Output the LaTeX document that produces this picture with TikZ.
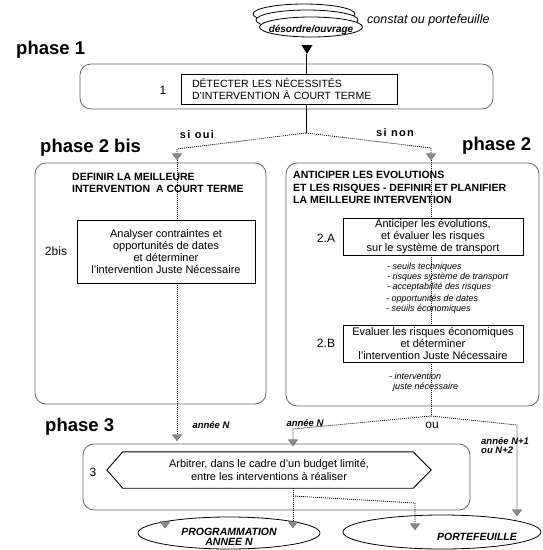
\documentclass[tikz,border=0pt]{standalone}
\usepackage{fontspec}
\setmainfont{Liberation Sans}
\usetikzlibrary{arrows.meta,shapes.geometric,calc}
\begin{document}
\begin{tikzpicture}[x=1pt,y=-1pt,
  phase/.style={font=\fontsize{18.5}{20}\selectfont\bfseries, anchor=west, inner sep=0},
  rbox/.style={draw=black!60, line width=0.8pt, rounded corners=11pt, inner sep=0},
  ibox/.style={draw=black, line width=0.9pt, inner sep=0, align=center, font=\fontsize{11}{11.8}\selectfont},
  num/.style={font=\fontsize{12}{14}\selectfont, inner sep=0},
  ttl/.style={font=\fontsize{10.5}{12.5}\selectfont\bfseries, align=left, anchor=north west, inner sep=0},
  blt/.style={font=\fontsize{9}{10}\selectfont\itshape, align=left, anchor=north west, inner sep=0},
  yr/.style={font=\fontsize{9.5}{9.5}\selectfont\bfseries\itshape, inner sep=0},
  cond/.style={font=\fontsize{11}{12}\selectfont\bfseries\addfontfeature{LetterSpace=12}, inner sep=0},
  ell/.style={ellipse, draw=black, line width=0.8pt, inner sep=0},
  solid1/.style={line width=0.9pt},
  dot/.style={line width=0.8pt, dash pattern=on 1pt off 1pt},
  harr/.style={dot, -{Triangle[width=10pt,length=6.5pt,fill=black!45,color=black!65,line width=0.4pt]}},
]
\useasboundingbox (0,0) rectangle (543,550);

% top stack
\draw[line width=0.8pt, fill=white] (304,14) ellipse [x radius=51, y radius=10];
\draw[line width=0.8pt, fill=white] (307,20) ellipse [x radius=51, y radius=10];
\node[ell, fill=white, minimum width=103, minimum height=20] (dis) at (311,27) {};
\node[font=\fontsize{10}{10}\selectfont\bfseries\itshape, inner sep=0] (distxt) at (311,30) {désordre/ouvrage};
\node[font=\fontsize{12.5}{13}\selectfont\itshape, anchor=west, inner sep=0] (constat) at (367,20) {constat ou portefeuille};
\fill (301.5,45) -- (312.5,45) -- (307,54) -- cycle;
\coordinate (tri) at (306,54);

% phase labels
\node[phase] (ph1) at (16,50) {phase 1};
\node[phase] (ph2b) at (40,148) {phase 2 bis};
\node[phase] (ph2) at (462,146) {phase 2};
\node[phase] (ph3) at (45,427) {phase 3};

% phase 1
\node[rbox, minimum width=413, minimum height=45] (p1) at (286.5,86.5) {};
\node[ibox, align=left, text width=194, inner xsep=11, minimum height=30, font=\fontsize{10.5}{12}\selectfont] (detect) at (289,89) {DÉTECTER LES NÉCESSITÉS\\D'INTERVENTION À COURT TERME};
\node[num] (n1) at (163,90) {1};

\node[cond] (oui) at (197,135) {si oui};
\node[cond] (non) at (395,133) {si non};

% phase 2 bis
\node[rbox, minimum width=231, minimum height=241] (p2b) at (150.5,283.5) {};
\node[ttl] (t2b) at (72,173) {DEFINIR LA MEILLEURE\\INTERVENTION~~A COURT TERME};
\node[ibox, minimum width=178, minimum height=63] (bis) at (166,251.5) {Analyser contraintes et\\opportunités de dates\\et déterminer\\l'intervention Juste Nécessaire};
\node[num] (n2b) at (56,251) {2bis};

% phase 2
\node[rbox, minimum width=253, minimum height=243] (p2) at (412.5,284.5) {};
\node[ttl] (t2) at (293,171) {ANTICIPER LES EVOLUTIONS\\ET LES RISQUES - DEFINIR ET PLANIFIER\\LA MEILLEURE INTERVENTION};
\node[ibox, minimum width=180, minimum height=37] (anta) at (433,236.5) {Anticiper les évolutions,\\et évaluer les risques\\sur le système de transport};
\node[num] (n2a) at (326,238) {2.A};
\node[blt] (b1) at (387,263) {- seuils techniques\\- risques système de transport\\- acceptabilité des risques};
\node[blt] (b2) at (386,295) {- opportunités de dates\\- seuils économiques};
\node[ibox, minimum width=180, minimum height=37] (evb) at (433,343.5) {Evaluer les risques économiques\\et déterminer\\l'intervention Juste Nécessaire};
\node[num] (n2bb) at (326,343) {2.B};
\node[blt] (b3) at (389,373) {- intervention\\\hspace*{4pt}juste nécessaire};

% phase 3
\node[rbox, minimum width=387, minimum height=66] (p3) at (276.5,477) {};
\node[inner sep=0, minimum width=324, minimum height=36, align=center, font=\fontsize{11}{13.5}\selectfont] (hex) at (269,470) {Arbitrer, dans le cadre d'un budget limité,\\entre les interventions à réaliser};
\draw[line width=0.9pt] (hex.west) -- ([xshift=16pt]hex.north west) -- ([xshift=-18pt]hex.north east) -- (hex.east) -- ([xshift=-18pt]hex.south east) -- ([xshift=16pt]hex.south west) -- cycle;
\node[num] (n3) at (93,472) {3};

\node[yr] (anl) at (211,425) {année N};
\node[yr] (anr) at (305,423) {année N};
\node[yr, align=left, anchor=north west] (an1) at (481,437) {année N+1\\ou N+2};
\node[font=\fontsize{12}{12}\selectfont, inner sep=0] (ou) at (432,425) {ou};

% ellipses
\node[ell, minimum width=182, minimum height=32] (prog) at (229,533) {};
\node[font=\fontsize{10.5}{9.5}\selectfont\bfseries\itshape, align=center, inner sep=0] (progtxt) at (229,537) {PROGRAMMATION\\ANNEE N};
\node[ell, minimum width=198, minimum height=34] (port) at (442,532) {};
\node[font=\fontsize{10.5}{10}\selectfont\bfseries\itshape, inner sep=0] (porttxt) at (477,537) {PORTEFEUILLE};
\filldraw[fill=black!45, draw=black!65, line width=0.4pt] (160,521.5) -- (170,521.5) -- (165,528) -- cycle;

% connectors
\draw[solid1] (tri) -- (tri |- detect.north);
\coordinate (s1) at (306,133);
\draw[solid1] (tri |- detect.south) -- (s1);
\coordinate (l1) at (177,149); \coordinate (la) at (177,160);
\draw[harr] (s1) -- (l1) -- (la);
\draw[dot] (la) -- (la |- bis.north);
\coordinate (r1) at (431,148); \coordinate (ra) at (431,160);
\draw[harr] (s1) -- (r1) -- (ra);
\draw[dot] (ra) -- (ra |- anta.north);
\draw[dot] (ra |- anta.south) -- (ra |- evb.north);
\coordinate (s2) at (431,416);
\draw[dot] (ra |- evb.south) -- (s2);
\coordinate (lb) at (177,441);
\draw[harr] (la |- bis.south) -- (lb);
\coordinate (m1) at (293,429); \coordinate (mb) at (293,446);
\draw[harr] (s2) -- (m1) -- (mb);
\coordinate (q1) at (517,425); \coordinate (qb) at (517,516);
\draw[harr] (s2) -- (q1) -- (qb);
\coordinate (pb) at (293,528);
\draw[harr] (mb |- hex.south) -- (pb);
\coordinate (k0) at (293,496); \coordinate (k1) at (415,503); \coordinate (kb) at (415,530);
\draw[harr] (k0) -- (k1) -- (kb);
\end{tikzpicture}
\end{document}
